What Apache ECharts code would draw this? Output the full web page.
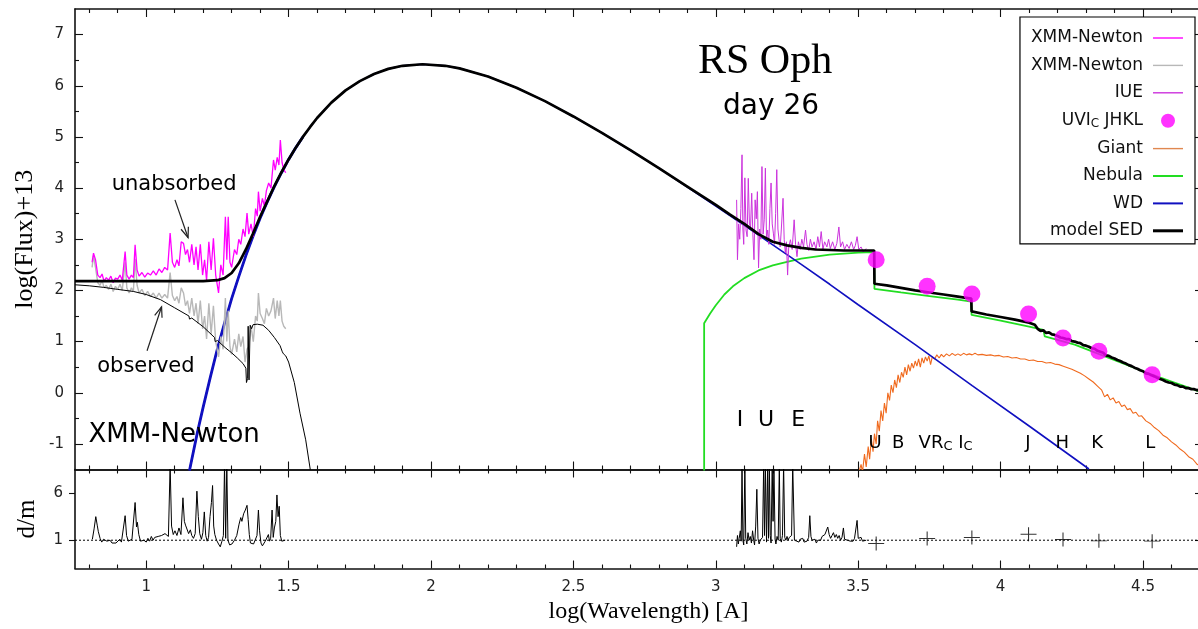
<!DOCTYPE html>
<html>
<head>
<meta charset="utf-8">
<script src="https://cdn.jsdelivr.net/npm/echarts@6/dist/echarts.min.js"></script>
<style>
  html, body { margin: 0; padding: 0; background: #fff; }
  #chart { width: 1198px; height: 629px; }
</style>
</head>
<body>
<div id="chart"></div>
<script>
// ---------- data: log(wavelength [A]) vs log(flux)+13 ----------
const xmmUnabsorbed = [
  [0.810,2.55],[0.815,2.73],[0.822,2.60],[0.830,2.30],[0.838,2.25],[0.845,2.32],[0.852,2.18],[0.860,2.25],
  [0.868,2.20],[0.876,2.28],[0.884,2.15],[0.892,2.24],[0.900,2.22],[0.908,2.30],[0.916,2.20],[0.926,2.76],
  [0.932,2.30],[0.940,2.22],[0.948,2.30],[0.955,2.25],[0.961,2.89],[0.968,2.40],[0.975,2.28],[0.985,2.35],
  [0.995,2.26],[1.005,2.34],[1.015,2.30],[1.025,2.38],[1.035,2.30],[1.045,2.42],[1.055,2.35],[1.065,2.45],
  [1.075,2.40],[1.084,3.12],[1.092,2.55],[1.100,2.45],[1.108,2.60],[1.115,2.48],[1.123,2.95],[1.131,2.92],
  [1.138,2.70],[1.145,2.80],[1.152,2.55],[1.160,2.90],[1.168,2.50],[1.175,2.85],[1.182,2.40],[1.190,2.90],
  [1.198,2.30],[1.205,2.60],[1.212,2.20],[1.220,2.95],[1.228,2.40],[1.236,3.02],[1.244,2.30],[1.254,1.95],
  [1.262,2.50],[1.270,2.30],[1.278,3.44],[1.283,2.60],[1.288,3.44],[1.294,2.55],[1.300,2.45],[1.310,2.80],
  [1.318,2.70],[1.325,3.00],[1.332,2.90],[1.340,3.20],[1.347,3.05],[1.354,3.51],[1.360,3.10],[1.368,3.30],
  [1.376,3.05],[1.384,3.60],[1.390,3.45],[1.394,3.93],[1.400,3.55],[1.408,3.80],[1.415,3.65],[1.422,3.95],
  [1.430,4.10],[1.438,4.00],[1.447,4.55],[1.453,4.35],[1.460,4.60],[1.466,4.45],[1.471,4.94],[1.477,4.50],
  [1.483,4.36],[1.490,4.30]
];
const xmmObserved = [
  [0.810,2.45],[0.815,2.68],[0.822,2.45],[0.830,2.15],[0.838,2.10],[0.845,2.20],[0.852,2.05],[0.860,2.10],
  [0.868,2.02],[0.876,2.12],[0.884,1.98],[0.892,2.08],[0.900,2.02],[0.908,2.12],[0.916,2.00],[0.926,2.55],
  [0.932,2.05],[0.940,1.95],[0.948,2.05],[0.955,1.98],[0.961,2.62],[0.968,2.10],[0.975,1.95],[0.985,2.02],
  [0.995,1.90],[1.005,1.98],[1.015,1.88],[1.025,1.95],[1.035,1.85],[1.045,1.95],[1.055,1.85],[1.065,1.92],
  [1.075,1.85],[1.084,2.35],[1.092,1.90],[1.100,1.80],[1.108,1.88],[1.115,1.75],[1.123,2.05],[1.131,1.95],
  [1.138,1.70],[1.145,1.80],[1.152,1.55],[1.160,1.85],[1.168,1.50],[1.175,1.75],[1.182,1.35],[1.190,1.80],
  [1.198,1.25],[1.205,1.50],[1.212,1.05],[1.220,1.75],[1.228,1.15],[1.236,1.70],[1.244,1.00],[1.254,0.70],
  [1.262,1.10],[1.270,0.85],[1.278,1.85],[1.283,1.00],[1.288,1.60],[1.294,0.90],[1.300,0.75],[1.310,1.05],
  [1.318,0.80],[1.325,1.15],[1.332,0.90],[1.340,1.10],[1.347,0.60],[1.354,0.85],[1.360,0.90],[1.368,1.30],
  [1.376,1.00],[1.384,1.50],[1.390,1.40],[1.394,1.95],[1.400,1.55],[1.408,1.45],[1.415,1.35],[1.422,1.65],
  [1.430,1.50],[1.438,1.60],[1.447,1.85],[1.453,1.45],[1.460,1.80],[1.466,1.50],[1.471,1.80],[1.477,1.40],
  [1.483,1.30],[1.490,1.25]
];
const iueFlux = [
  [3.073,3.77],[3.076,2.60],[3.080,3.30],[3.084,3.00],[3.088,3.60],[3.092,4.65],[3.095,3.20],[3.098,2.90],
  [3.102,4.20],[3.106,3.18],[3.110,3.05],[3.114,4.19],[3.118,3.30],[3.122,3.24],[3.126,3.90],[3.130,3.10],
  [3.134,2.60],[3.138,3.77],[3.142,3.40],[3.146,3.93],[3.150,2.44],[3.154,3.20],[3.158,3.00],[3.162,4.42],
  [3.166,3.10],[3.170,3.38],[3.174,4.39],[3.178,3.00],[3.182,3.18],[3.186,2.90],[3.190,3.60],[3.194,4.10],
  [3.198,3.30],[3.202,3.12],[3.206,2.90],[3.210,3.50],[3.214,4.36],[3.218,3.20],[3.222,2.99],[3.226,2.85],
  [3.230,3.20],[3.236,3.80],[3.240,3.00],[3.244,2.73],[3.248,2.95],[3.252,2.30],[3.256,2.85],[3.262,2.99],
  [3.268,2.80],[3.275,3.38],[3.280,2.90],[3.285,2.66],[3.290,2.95],[3.296,2.80],[3.302,3.00],[3.308,2.85],
  [3.315,3.18],[3.320,2.90],[3.326,2.78],[3.332,3.00],[3.338,2.85],[3.345,2.95],[3.352,2.80],[3.358,3.05],
  [3.364,2.85],[3.370,3.15],[3.376,2.80],[3.382,2.95],[3.390,2.85],[3.396,3.00],[3.402,2.82],[3.410,2.95],
  [3.418,2.80],[3.425,2.92],[3.432,3.24],[3.438,2.85],[3.445,2.95],[3.452,2.80],[3.460,2.90],[3.468,2.82],
  [3.476,2.95],[3.484,2.80],[3.490,2.88],[3.496,3.05],[3.502,2.80],[3.510,2.85],[3.518,2.75],[3.528,2.82]
];
// U V Ic J H K L photometry
const photometry = [[3.563,2.60],[3.742,2.08],[3.899,1.93],[4.098,1.54],[4.219,1.07],[4.345,0.81],[4.532,0.35]];
const giant = [
  [3.500,-1.60],[3.510,-1.40],[3.515,-1.55],[3.522,-1.20],[3.528,-1.45],[3.535,-1.05],[3.540,-1.30],[3.546,-0.90],
  [3.552,-1.15],[3.557,-0.80],[3.563,-1.00],[3.568,-0.55],[3.574,-0.75],[3.580,-0.35],[3.586,-0.55],[3.592,-0.20],
  [3.598,-0.40],[3.604,0.00],[3.610,-0.15],[3.616,0.15],[3.622,0.00],[3.628,0.25],[3.634,0.10],[3.640,0.35],
  [3.646,0.20],[3.652,0.40],[3.658,0.30],[3.664,0.50],[3.670,0.35],[3.676,0.55],[3.682,0.42],[3.688,0.58],
  [3.694,0.48],[3.700,0.62],[3.706,0.52],[3.712,0.66],[3.718,0.50],[3.724,0.68],[3.730,0.58],[3.736,0.70],
  [3.742,0.62],[3.748,0.72],[3.754,0.55],[3.760,0.70],[3.768,0.66],[3.776,0.74],[3.784,0.68],[3.792,0.75],
  [3.800,0.70],[3.810,0.76],[3.820,0.72],[3.830,0.77],[3.840,0.73],[3.850,0.76],[3.860,0.73],[3.870,0.77],
  [3.880,0.74],[3.890,0.76],[3.900,0.74],[3.910,0.77],[3.920,0.74],[3.935,0.75],[3.950,0.73],[3.965,0.74],
  [3.980,0.72],[3.995,0.73],[4.010,0.70],[4.025,0.71],[4.040,0.68],[4.055,0.69],[4.070,0.66],[4.085,0.66],
  [4.100,0.63],[4.115,0.64],[4.130,0.61],[4.145,0.61],[4.160,0.58],[4.175,0.59],[4.190,0.56],[4.205,0.55],
  [4.220,0.52],[4.235,0.49],[4.250,0.46],[4.265,0.42],[4.280,0.38],[4.295,0.33],[4.310,0.27],[4.325,0.21],
  [4.340,0.13],[4.355,0.05],[4.365,-0.08],[4.375,-0.03],[4.385,-0.14],[4.395,-0.10],[4.405,-0.20],[4.415,-0.17],
  [4.425,-0.27],[4.435,-0.24],[4.445,-0.33],[4.455,-0.31],[4.465,-0.40],[4.475,-0.38],[4.485,-0.46],[4.495,-0.45],
  [4.510,-0.55],[4.525,-0.60],[4.540,-0.68],[4.555,-0.74],[4.570,-0.83],[4.585,-0.88],[4.600,-0.96],[4.615,-1.02],
  [4.630,-1.10],[4.645,-1.16],[4.660,-1.25],[4.675,-1.30],[4.690,-1.40],[4.700,-1.42]
];
const nebula = [
  [2.959,-1.6],[2.959,1.36],[2.98,1.55],[3.00,1.71],[3.03,1.92],[3.06,2.08],[3.10,2.24],[3.15,2.39],[3.20,2.49],
  [3.25,2.56],[3.30,2.62],[3.35,2.66],[3.40,2.70],[3.45,2.72],[3.50,2.74],[3.556,2.75],[3.557,2.03],[3.65,1.96],
  [3.75,1.89],[3.85,1.82],[3.897,1.78],[3.898,1.52],[4.00,1.41],[4.10,1.29],[4.15,1.23],[4.155,1.10],[4.26,0.94],
  [4.38,0.68],[4.50,0.42],[4.60,0.22],[4.70,0.02]
];
const whiteDwarf = [
  [1.152,-1.52],[1.18,-0.77],[1.20,-0.28],[1.225,0.30],[1.25,0.86],[1.275,1.36],[1.30,1.84],[1.325,2.27],
  [1.35,2.68],[1.375,3.06],[1.40,3.41],[1.425,3.73],[1.45,4.03],[1.475,4.30],[1.50,4.56],[1.525,4.79],
  [1.55,5.00],[1.575,5.19],[1.60,5.37],[1.65,5.67],[1.70,5.91],[1.75,6.09],[1.80,6.23],[1.85,6.33],
  [1.90,6.39],[1.97,6.42],[2.05,6.39],[2.10,6.34],[2.20,6.18],[2.30,5.96],[2.40,5.70],[2.50,5.40],
  [2.60,5.08],[2.70,4.74],[2.80,4.39],[2.90,4.02],[3.00,3.65],[3.10,3.27],[3.20,2.89],[3.30,2.51],
  [3.40,2.12],[3.50,1.72],[3.70,0.94],[3.90,0.14],[4.10,-0.65],[4.31,-1.49]
];
const modelSED = [
  [0.75,2.18],[0.85,2.18],[0.95,2.18],[1.05,2.18],[1.15,2.18],[1.20,2.18],[1.25,2.20],[1.275,2.24],[1.30,2.34],
  [1.325,2.53],[1.35,2.80],[1.375,3.11],[1.40,3.44],[1.425,3.74],[1.45,4.04],[1.475,4.31],[1.50,4.56],
  [1.525,4.79],[1.55,5.00],[1.575,5.19],[1.60,5.37],[1.65,5.67],[1.70,5.91],[1.75,6.09],[1.80,6.23],
  [1.85,6.33],[1.90,6.39],[1.97,6.42],[2.05,6.39],[2.10,6.34],[2.20,6.18],[2.30,5.96],[2.40,5.70],
  [2.50,5.40],[2.60,5.08],[2.70,4.74],[2.80,4.39],[2.90,4.03],[3.00,3.67],[3.05,3.48],[3.10,3.30],
  [3.15,3.10],[3.20,2.95],[3.25,2.88],[3.30,2.83],[3.35,2.80],[3.40,2.79],[3.45,2.78],[3.50,2.78],
  [3.556,2.78],[3.557,2.13],[3.60,2.10],[3.65,2.05],[3.70,2.00],[3.75,1.96],[3.80,1.92],[3.85,1.88],
  [3.897,1.84],[3.898,1.59],[3.95,1.53],[4.00,1.48],[4.05,1.43],[4.10,1.37],[4.12,1.33],[4.13,1.25],
  [4.14,1.21],[4.15,1.22],[4.16,1.17],[4.17,1.18],[4.18,1.14],[4.19,1.13],[4.20,1.11],[4.21,1.08],
  [4.22,1.07],[4.23,1.05],[4.24,1.05],[4.25,1.01],[4.26,1.00],[4.27,0.98],[4.28,0.97],[4.29,0.93],
  [4.30,0.92],[4.31,0.90],[4.32,0.87],[4.33,0.86],[4.34,0.82],[4.35,0.80],[4.36,0.78],[4.37,0.73],
  [4.38,0.72],[4.39,0.69],[4.40,0.67],[4.41,0.64],[4.42,0.62],[4.43,0.59],[4.44,0.57],[4.45,0.54],
  [4.46,0.52],[4.47,0.49],[4.48,0.47],[4.49,0.44],[4.50,0.42],[4.51,0.38],[4.52,0.37],[4.53,0.34],
  [4.54,0.32],[4.55,0.29],[4.56,0.27],[4.57,0.25],[4.58,0.22],[4.59,0.20],[4.60,0.19],[4.61,0.16],
  [4.62,0.15],[4.63,0.12],[4.64,0.12],[4.65,0.09],[4.66,0.09],[4.67,0.07],[4.68,0.07],[4.69,0.05],[4.70,0.06]
];
// absorbed model in the X-ray range
const modelObserved = [
  [0.75,2.11],[0.80,2.09],[0.85,2.06],[0.90,2.02],[0.955,1.98],[1.00,1.92],[1.05,1.82],[1.10,1.66],
  [1.15,1.50],[1.152,1.44],[1.16,1.46],[1.20,1.29],[1.24,1.08],[1.242,1.00],[1.25,1.02],[1.28,0.87],
  [1.30,0.78],[1.32,0.68],[1.34,0.57],[1.35,0.48],[1.352,0.20],[1.356,0.28],[1.358,1.30],[1.361,0.25],
  [1.365,1.32],[1.370,1.25],[1.375,1.33],[1.39,1.34],[1.41,1.32],[1.43,1.22],[1.45,1.08],[1.47,0.92],
  [1.478,0.80],[1.482,0.76],[1.49,0.72],[1.50,0.60],[1.52,0.20],[1.54,-0.40],[1.56,-0.92],[1.576,-1.50],[1.58,-1.65]
];
// data / model ratios (lower panel)
const residXmm = [
  [0.811,1.1],[0.817,2.2],[0.823,3.5],[0.828,2.6],[0.832,1.9],[0.838,1.2],[0.844,0.8],[0.850,1.1],[0.856,1.3],
  [0.862,0.9],[0.868,0.8],[0.873,1.0],[0.880,0.7],[0.887,0.9],[0.894,0.7],[0.900,0.9],[0.907,1.1],[0.913,0.8],
  [0.920,1.0],[0.926,3.6],[0.931,1.5],[0.937,0.9],[0.943,0.8],[0.950,1.1],[0.955,0.9],[0.961,5.0],[0.966,2.4],
  [0.969,2.9],[0.974,1.6],[0.980,0.9],[0.986,0.8],[0.992,1.0],[1.000,0.8],[1.006,1.2],[1.012,0.9],[1.018,1.4],
  [1.024,1.0],[1.030,1.3],[1.036,1.1],[1.042,1.4],[1.048,1.2],[1.054,1.5],[1.060,1.3],[1.066,1.7],[1.072,1.9],
  [1.078,1.4],[1.084,9.0],[1.089,2.5],[1.095,1.6],[1.101,2.0],[1.108,1.5],[1.115,2.3],[1.122,1.6],[1.129,5.5],
  [1.134,3.0],[1.138,2.6],[1.143,2.4],[1.149,1.7],[1.155,2.1],[1.160,1.5],[1.166,1.2],[1.172,1.7],[1.178,6.2],
  [1.183,3.5],[1.188,1.7],[1.194,1.1],[1.199,1.8],[1.204,4.0],[1.209,1.5],[1.214,0.9],[1.219,1.3],[1.224,3.5],
  [1.229,5.0],[1.233,6.8],[1.237,2.5],[1.241,1.6],[1.247,1.0],[1.254,0.6],[1.260,0.3],[1.266,0.9],[1.271,1.5],
  [1.275,9.0],[1.279,1.2],[1.283,9.0],[1.287,1.0],[1.293,0.5],[1.301,0.6],[1.310,1.0],[1.318,1.5],[1.326,2.7],
  [1.332,3.4],[1.336,3.0],[1.342,3.8],[1.348,4.2],[1.354,4.7],[1.358,3.2],[1.362,1.6],[1.366,0.7],[1.371,0.5],
  [1.377,0.6],[1.383,0.5],[1.389,1.5],[1.394,4.2],[1.398,2.0],[1.403,0.7],[1.408,0.4],[1.413,0.6],[1.418,0.9],
  [1.424,0.8],[1.429,1.6],[1.433,0.9],[1.437,1.2],[1.442,4.2],[1.446,1.3],[1.450,2.3],[1.455,3.0],[1.459,5.8],
  [1.463,3.5],[1.467,4.6],[1.471,1.5],[1.476,0.9],[1.482,0.8],[1.488,1.0]
];
const residIue = [
  [3.073,0.3],[3.076,1.5],[3.079,0.6],[3.082,1.2],[3.086,2.0],[3.089,0.9],[3.092,9.0],[3.095,1.0],[3.098,0.5],
  [3.102,9.0],[3.105,1.2],[3.109,0.6],[3.113,1.8],[3.117,1.0],[3.121,1.4],[3.125,0.7],[3.129,2.0],[3.133,1.0],
  [3.136,0.5],[3.140,2.5],[3.144,6.4],[3.148,1.2],[3.152,0.6],[3.156,1.0],[3.160,0.8],[3.164,1.3],[3.168,9.0],
  [3.171,1.5],[3.174,9.0],[3.178,0.8],[3.182,9.0],[3.185,1.2],[3.188,9.0],[3.191,1.5],[3.194,0.7],[3.198,9.0],
  [3.201,3.0],[3.204,9.0],[3.208,1.1],[3.211,0.6],[3.215,1.4],[3.219,1.0],[3.223,9.0],[3.226,1.2],[3.230,0.8],
  [3.234,1.5],[3.238,9.0],[3.242,1.3],[3.246,1.0],[3.250,1.4],[3.254,1.0],[3.258,1.3],[3.262,1.1],[3.266,1.5],
  [3.270,9.0],[3.273,9.0],[3.276,1.0],[3.280,1.2],[3.284,0.9],[3.288,1.1],[3.292,0.8],[3.296,1.1],[3.300,0.9],
  [3.305,1.2],[3.310,0.8],[3.315,1.0],[3.320,0.9],[3.326,1.3],[3.330,3.6],[3.334,1.4],[3.338,1.0],[3.343,0.8],
  [3.348,1.1],[3.353,0.7],[3.358,1.0],[3.363,1.2],[3.368,1.0],[3.373,1.4],[3.378,1.2],[3.383,1.6],[3.388,1.4],
  [3.393,2.4],[3.398,1.6],[3.403,1.2],[3.408,1.5],[3.413,1.8],[3.418,1.3],[3.423,1.6],[3.428,1.2],[3.433,1.5],
  [3.438,1.0],[3.443,1.3],[3.448,2.3],[3.452,1.1],[3.457,1.3],[3.462,1.0],[3.467,1.2],[3.472,0.9],[3.477,1.1],
  [3.482,0.9],[3.487,1.2],[3.492,1.0],[3.496,3.1],[3.500,1.2],[3.505,1.0],[3.510,1.3],[3.515,0.9],[3.520,1.1],[3.528,1.0]
];
const residPhot = [[3.563,0.65],[3.742,1.18],[3.899,1.28],[4.098,1.63],[4.219,1.07],[4.345,0.93],[4.532,0.90]];
const unityLine = [[0.75,1],[4.7,1]];

// ---------- axes: ranges and tick labels ----------
const X_RANGE = [0.75, 4.7];
const Y_RANGE = [-1.5, 7.5];
const R_RANGE = [-2, 8.5];
const xLabelTicks = [1, 1.5, 2, 2.5, 3, 3.5, 4, 4.5];
const yLabelTicks = [-1, 0, 1, 2, 3, 4, 5, 6, 7];
const rLabelTicks = [1, 6];

const xMinorTicks = [];
for (let i = 8; i <= 47; i++) if (i % 5 !== 0) xMinorTicks.push(i / 10);
const yMinorTicks = [];
for (let i = -1; i <= 13; i += 2) yMinorTicks.push(i / 2);

const SANS = '"DejaVu Sans", sans-serif';
const SERIF = '"Liberation Serif", "DejaVu Serif", serif';
const INK = '#111';

const chart = echarts.init(document.getElementById('chart'), null, { renderer: 'canvas' });

const GRID_L = 75, GRID_W = 1125;
const grids = [
  { left: GRID_L, top: 9, width: GRID_W, height: 460.5, outerBoundsMode: 'none', containLabel: false },
  { left: GRID_L, top: 469.5, width: GRID_W, height: 99, outerBoundsMode: 'none', containLabel: false }
];

function axisBase(range, gridIndex, position, values, len, showLine, inside) {
  return {
    type: 'value', gridIndex, position, min: range[0], max: range[1],
    axisLine: { show: showLine, onZero: false, lineStyle: { color: INK, width: 1.6 } },
    axisTick: { show: true, inside: inside !== false, length: len, customValues: values,
                lineStyle: { color: INK, width: 1.1 } },
    axisLabel: { show: false },
    splitLine: { show: false },
    silent: true
  };
}
const labelStyle = { show: true, fontFamily: SANS, fontSize: 15, color: '#222', margin: 11 };
const nameStyle = { fontFamily: SERIF, fontSize: 24, color: '#000' };

const xAxes = [];
[0, 1].forEach(g => {
  const bottom = axisBase(X_RANGE, g, 'bottom', xLabelTicks, 8, true);
  if (g === 1) {
    bottom.axisLabel = Object.assign({}, labelStyle, { customValues: xLabelTicks });
    bottom.name = 'log(Wavelength) [A]';
    bottom.nameLocation = 'middle';
    bottom.nameGap = 31;
    bottom.nameTextStyle = Object.assign({}, nameStyle, { padding: [0, 0, 0, 22] });
  }
  xAxes.push(bottom);
  xAxes.push(axisBase(X_RANGE, g, 'bottom', xMinorTicks, 4, false));
  xAxes.push(axisBase(X_RANGE, g, 'top', xLabelTicks, 8, true));
  xAxes.push(axisBase(X_RANGE, g, 'top', xMinorTicks, 4, false));
});

const yMain = axisBase(Y_RANGE, 0, 'left', yLabelTicks, 8, true);
yMain.axisLabel = Object.assign({}, labelStyle, { customValues: yLabelTicks });
yMain.name = 'log(Flux)+13';
yMain.nameLocation = 'middle';
yMain.nameGap = 35;
yMain.nameRotate = 90;
yMain.nameTextStyle = Object.assign({}, nameStyle, { fontSize: 26 });

const yRes = axisBase(R_RANGE, 1, 'left', rLabelTicks, 6, true, false);
yRes.axisLabel = Object.assign({}, labelStyle, { customValues: rLabelTicks, margin: 12 });
yRes.name = 'd/m';
yRes.nameLocation = 'middle';
yRes.nameGap = 35;
yRes.nameRotate = 90;
yRes.nameTextStyle = Object.assign({}, nameStyle, { fontSize: 25 });

const yAxes = [
  yMain,
  axisBase(Y_RANGE, 0, 'left', yMinorTicks, 4, false),
  axisBase(Y_RANGE, 0, 'right', yLabelTicks, 5, true),
  yRes,
  axisBase(R_RANGE, 1, 'right', rLabelTicks, 5, true)
];

function line(name, data, color, width, z, onLower) {
  return {
    type: 'line', name, data,
    xAxisIndex: onLower ? 4 : 0, yAxisIndex: onLower ? 3 : 0,
    showSymbol: false, symbol: 'none', clip: true, z,
    lineStyle: { color, width },
    itemStyle: { color },
    emphasis: { disabled: true }, silent: true
  };
}

const C = {
  xmm: '#ff00ff', gray: '#b8b8b8', iue: '#cc33dd', phot: '#ff00ff',
  giant: '#f06a1e', nebula: '#22dd22', wd: '#1010c0', model: '#000000'
};

const series = [
  line('Giant', giant, C.giant, 1.1, 2),
  line('Nebula', nebula, C.nebula, 1.8, 3),
  line('WD', whiteDwarf, C.wd, 1.6, 4),
  line('WD (X-ray range)', whiteDwarf.filter(p => p[0] <= 1.55), C.wd, 2.8, 4),
  line('XMM-Newton (observed)', xmmObserved, C.gray, 1.4, 5),
  line('XMM-Newton (unabsorbed)', xmmUnabsorbed, C.xmm, 1.3, 6),
  line('IUE', iueFlux, C.iue, 1, 6),
  line('absorbed model', modelObserved, '#000', 1, 7),
  line('model SED', modelSED, C.model, 2.7, 8),
  {
    type: 'scatter', name: 'UVIc JHKL', data: photometry, xAxisIndex: 0, yAxisIndex: 0,
    symbol: 'circle', symbolSize: 17, z: 9, itemStyle: { color: C.phot }, silent: true
  },
  // lower panel
  Object.assign(line('unity', unityLine, '#000', 1, 2, true), { lineStyle: { color: '#000', width: 1, type: [2, 2] } }),
  line('d/m XMM', residXmm, '#000', 1, 3, true),
  line('d/m IUE', residIue, '#000', 1, 3, true),
  {
    type: 'scatter', name: 'd/m phot', data: residPhot, xAxisIndex: 4, yAxisIndex: 3,
    symbol: 'path://M0,5L10,5M5,0L5,10', symbolSize: [16, 14], z: 4, silent: true,
    itemStyle: { color: 'transparent', borderColor: '#000', borderWidth: 1 }
  }
];

const legendLabels = {
  'XMM-Newton (unabsorbed)': 'XMM-Newton',
  'XMM-Newton (observed)': 'XMM-Newton',
  'IUE': 'IUE',
  'UVIc JHKL': 'UVI{s|C} JHKL',
  'Giant': 'Giant',
  'Nebula': 'Nebula',
  'WD': 'WD',
  'model SED': 'model SED'
};
const thin = 'path://M0,0H30V1.4H0Z';
const thick = 'path://M0,0H30V3H0Z';
const legendData = [
  { name: 'XMM-Newton (unabsorbed)', icon: thin, itemStyle: { color: C.xmm } },
  { name: 'XMM-Newton (observed)', icon: thin, itemStyle: { color: C.gray } },
  { name: 'IUE', icon: thin, itemStyle: { color: C.iue } },
  { name: 'UVIc JHKL', icon: 'circle', itemStyle: { color: C.phot } },
  { name: 'Giant', icon: thin, itemStyle: { color: '#e08850' } },
  { name: 'Nebula', icon: 'path://M0,0H30V2H0Z', itemStyle: { color: C.nebula } },
  { name: 'WD', icon: 'path://M0,0H30V2H0Z', itemStyle: { color: C.wd } },
  { name: 'model SED', icon: thick, itemStyle: { color: '#000' } }
];

chart.setOption({
  animation: false,
  backgroundColor: '#fff',
  grid: grids,
  xAxis: xAxes,
  yAxis: yAxes,
  legend: {
    data: legendData,
    formatter: n => legendLabels[n],
    orient: 'vertical', align: 'right',
    right: 3, top: 17,
    itemWidth: 30, itemHeight: 14, itemGap: 9.4,
    padding: [12, 12, 4, 11],
    borderColor: '#000', borderWidth: 1.2, borderRadius: 0,
    backgroundColor: '#fff',
    selectedMode: false,
    itemStyle: { borderWidth: 0 },
    textStyle: {
      fontFamily: SANS, fontSize: 17, color: INK, lineHeight: 18, padding: [0, 5, 0, 0],
      rich: { s: { fontFamily: SANS, fontSize: 12, lineHeight: 12, padding: [7, 0, 0, 0] } }
    }
  },
  series
});

// ---------- annotations (placed in data coordinates of the upper panel) ----------
const P = (x, y) => chart.convertToPixel({ xAxisIndex: 0, yAxisIndex: 0 }, [x, y]);

const notes = [
  { text: 'RS Oph', at: [3.173, 6.46], font: '42px ' + SERIF },
  { text: 'day 26', at: [3.194, 5.59], font: '28px ' + SANS },
  { text: 'unabsorbed', at: [1.098, 4.06], font: '21px ' + SANS },
  { text: 'observed', at: [0.999, 0.51], font: '21px ' + SANS },
  { text: 'XMM-Newton', at: [1.098, -0.84], font: '26px ' + SANS },
  { text: 'I', at: [3.085, -0.53], font: '22px ' + SANS },
  { text: 'U', at: [3.176, -0.53], font: '22px ' + SANS },
  { text: 'E', at: [3.289, -0.53], font: '22px ' + SANS },
  { text: 'U', at: [3.559, -0.98], font: '18px ' + SANS },
  { text: 'B', at: [3.640, -0.98], font: '18px ' + SANS },
  { text: 'J', at: [4.096, -0.98], font: '18px ' + SANS },
  { text: 'H', at: [4.216, -0.98], font: '18px ' + SANS },
  { text: 'K', at: [4.339, -0.98], font: '18px ' + SANS },
  { text: 'L', at: [4.525, -0.98], font: '18px ' + SANS }
];
const arrows = [
  [[1.101, 3.77], [1.147, 3.03]],
  [[1.003, 0.82], [1.054, 1.68]]
];

const graphic = [];
notes.forEach(n => {
  const p = P(n.at[0], n.at[1]);
  graphic.push({
    type: 'text', x: p[0], y: p[1], silent: true, z: 20,
    style: { text: n.text, font: n.font, fill: '#000', align: 'center', verticalAlign: 'middle',
             textAlign: 'center', textVerticalAlign: 'middle' }
  });
});
// V R_C I_C band labels with subscripts
{
  const p = P(3.712, -0.98);
  graphic.push({
    type: 'text', x: p[0], y: p[1], silent: true, z: 20,
    style: {
      text: 'VR{s|C} I{s|C}', font: '18px ' + SANS, fill: '#000',
      align: 'left', verticalAlign: 'middle', textAlign: 'left', textVerticalAlign: 'middle',
      lineHeight: 20,
      rich: { s: { font: '13px ' + SANS, fontSize: 13, fontFamily: SANS, fill: '#000', lineHeight: 9, verticalAlign: 'bottom' } }
    }
  });
}
arrows.forEach(a => {
  const s = P(a[0][0], a[0][1]);
  const e = P(a[1][0], a[1][1]);
  const ang = Math.atan2(e[1] - s[1], e[0] - s[0]);
  const L = 11, spread = 0.36;
  const h1 = [e[0] - L * Math.cos(ang - spread), e[1] - L * Math.sin(ang - spread)];
  const h2 = [e[0] - L * Math.cos(ang + spread), e[1] - L * Math.sin(ang + spread)];
  graphic.push({ type: 'polyline', silent: true, z: 20, shape: { points: [s, e] },
                 style: { stroke: '#222', lineWidth: 1.2, fill: null } });
  graphic.push({ type: 'polyline', silent: true, z: 20, shape: { points: [h1, e, h2] },
                 style: { stroke: '#222', lineWidth: 1.2, fill: null } });
});

chart.setOption({ graphic });
</script>
</body>
</html>
